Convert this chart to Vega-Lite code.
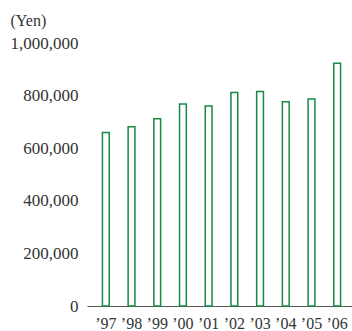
{
  "$schema": "https://vega.github.io/schema/vega-lite/v6.json",
  "autosize": "none",
  "padding": {"left": 87, "top": 43, "right": 0, "bottom": 25},
  "width": 269,
  "height": 263,
  "background": "white",
  "config": {
    "view": {"stroke": null},
    "font": "Liberation Serif",
    "axis": {"labelFont": "Liberation Serif", "labelColor": "#333333", "titleFont": "Liberation Serif", "titleColor": "#333333"}
  },
  "data": {
    "values": [
      {"year": "’97", "yen": 660000},
      {"year": "’98", "yen": 682000},
      {"year": "’99", "yen": 712000},
      {"year": "’00", "yen": 768000},
      {"year": "’01", "yen": 760000},
      {"year": "’02", "yen": 812000},
      {"year": "’03", "yen": 816000},
      {"year": "’04", "yen": 777000},
      {"year": "’05", "yen": 787000},
      {"year": "’06", "yen": 923000}
    ]
  },
  "mark": {"type": "bar", "fill": "white", "stroke": "#168a45", "strokeWidth": 1.5},
  "encoding": {
    "x": {
      "field": "year",
      "type": "nominal",
      "sort": null,
      "scale": {"paddingInner": 0.736, "paddingOuter": 0.6},
      "axis": {
        "title": null,
        "labelAngle": 0,
        "labelFontSize": 16,
        "labelPadding": 9,
        "ticks": false,
        "domain": true,
        "domainColor": "#555555",
        "domainWidth": 1
      }
    },
    "y": {
      "field": "yen",
      "type": "quantitative",
      "scale": {"domain": [0, 1000000]},
      "axis": {
        "values": [0, 200000, 400000, 600000, 800000, 1000000],
        "format": ",d",
        "grid": false,
        "domain": false,
        "ticks": false,
        "labelFontSize": 17,
        "labelPadding": 9,
        "title": "(Yen)",
        "titleAngle": 0,
        "titleFontSize": 16,
        "titleFontWeight": "normal",
        "titleAlign": "left",
        "titleBaseline": "middle",
        "titleX": -77,
        "titleY": -23
      }
    }
  }
}
